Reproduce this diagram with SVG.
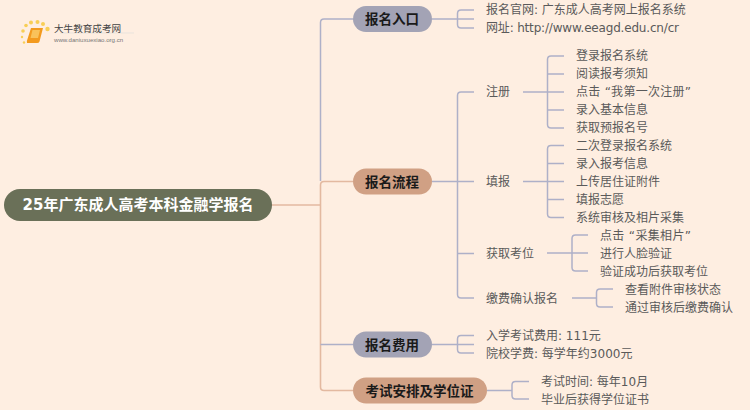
<svg xmlns="http://www.w3.org/2000/svg" width="750" height="410" viewBox="0 0 750 410">
<style>
text{font-family:"DejaVu Sans","Noto Sans CJK SC",sans-serif}
.l{font-size:12px;fill:#5a5a5a;dominant-baseline:central;transform:translateY(0.8px)}
.p{font-size:13.500px;font-weight:700;fill:#1a1a1a;text-anchor:middle;dominant-baseline:central;transform:translateY(0.8px)}
.c path{fill:none;stroke:#AEB0C8;stroke-width:1.5}
.c path.o{stroke:#E3B9A0;stroke-width:1.6}
</style>
<rect width="750" height="410" fill="#FEEEE1"/>
<g id="logo">
<g fill="#F8CE55"><circle cx="23" cy="31" r="1.8"/><circle cx="26" cy="25.500" r="1.800"/><circle cx="31" cy="22.500" r="2"/><circle cx="37.500" cy="22" r="2"/><circle cx="43" cy="24" r="2"/><circle cx="47.500" cy="29" r="2.200"/><circle cx="22" cy="37" r="1.200"/><circle cx="24" cy="42.500" r="1.200"/></g>
<path d="M31 28H43L39.500 41.500Q39 43 37 43H27Q26.500 41 27.500 39Z" fill="#F39A1E"/>
<path d="M32.500 30H40L38 38H30.500Z" fill="#F9C25A"/>
<path d="M60 33H134" stroke="#E9E3DC" stroke-width="1" fill="none"/>
<text x="54" y="28" font-size="9.600" fill="#444" dominant-baseline="central">大牛教育成考网</text>
<text x="54" y="39" font-size="6.100" fill="#777" dominant-baseline="central" style="font-family:'Liberation Sans',sans-serif">www.daniuxuexiao.org.cn</text>
</g>
<g id="connectors" class="c">
<path class="o" d="M272 205H320.500"/>
<path d="M353 19H324Q320.500 19 320.500 22.500V181"/>
<path class="o" d="M353 181.500H324Q320.500 181.500 320.500 185V387Q320.500 390.500 324 390.500H353"/>
<path d="M353 344.500H320.500"/>
<path d="M432 19H474M474 10H461Q457.500 10 457.500 13.500V24.500Q457.500 28 461 28H474"/>
<path d="M432 181.500H474M474 92H461Q457.500 92 457.500 95.500V294.500Q457.500 298 461 298H474M457.500 253.500H474"/>
<path d="M523 92H547.500M564 56H551Q547.500 56 547.500 59.500V124.500Q547.500 128 551 128H564M547.500 74H564M547.500 92H564M547.500 110H564"/>
<path d="M523 181.500H547.500M564 145.500H551Q547.500 145.500 547.500 149V214Q547.500 217.500 551 217.500H564M547.500 163.500H564M547.500 181.500H564M547.500 199.500H564"/>
<path d="M547 253H572M588 235H575.500Q572 235 572 238.500V267.500Q572 271 575.500 271H588M572 253H588"/>
<path d="M572 298H596.500M613 289H600Q596.500 289 596.500 292.500V303.500Q596.500 307 600 307H613"/>
<path d="M432 344.500H474M474 335.500H461Q457.500 335.500 457.500 339V349.500Q457.500 353 461 353H474"/>
<path d="M487 390.500H512M529 381.500H515.500Q512 381.500 512 385V395.500Q512 399 515.500 399H529"/>
</g>
<g id="root"><rect x="4" y="189" width="268" height="32" rx="16" fill="#6A7058"/><text x="138" y="205" font-size="15" font-weight="700" fill="#fff" text-anchor="middle" dominant-baseline="central">25年广东成人高考本科金融学报名</text></g>
<g id="n1"><rect x="353" y="6" width="79" height="26" rx="13" fill="#A3A3B5"/><text class="p" x="392" y="18.500">报名入口</text></g>
<g id="n2"><rect x="353" y="168.500" width="79" height="26" rx="13" fill="#D0A084"/><text class="p" x="392" y="181">报名流程</text></g>
<g id="n3"><rect x="353" y="331.500" width="79" height="26" rx="13" fill="#A3A3B5"/><text class="p" x="392" y="344">报名费用</text></g>
<g id="n4"><rect x="353" y="377.500" width="134" height="26" rx="13" fill="#D0A084"/><text class="p" x="419.500" y="390">考试安排及学位证</text></g>
<g id="a1"><text class="l" x="486" y="9.500">报名官网: 广东成人高考网上报名系统</text></g>
<g id="a2"><text class="l" x="486" y="27.500" textLength="193">网址: http://www.eeagd.edu.cn/cr</text></g>
<g id="b1"><text class="l" x="486" y="91.500">注册</text></g>
<g id="b2"><text class="l" x="486" y="181">填报</text></g>
<g id="b3"><text class="l" x="486" y="253">获取考位</text></g>
<g id="b4"><text class="l" x="486" y="298">缴费确认报名</text></g>
<g id="c1"><text class="l" x="576" y="55.500">登录报名系统</text></g>
<g id="c2"><text class="l" x="576" y="73.500">阅读报考须知</text></g>
<g id="c3"><text class="l" x="576" y="91.500" textLength="115">点击 “我第一次注册”</text></g>
<g id="c4"><text class="l" x="576" y="109.500">录入基本信息</text></g>
<g id="c5"><text class="l" x="576" y="127.500">获取预报名号</text></g>
<g id="d1"><text class="l" x="576" y="145.500">二次登录报名系统</text></g>
<g id="d2"><text class="l" x="576" y="163.500">录入报考信息</text></g>
<g id="d3"><text class="l" x="576" y="181.500">上传居住证附件</text></g>
<g id="d4"><text class="l" x="576" y="199">填报志愿</text></g>
<g id="d5"><text class="l" x="576" y="217">系统审核及相片采集</text></g>
<g id="e1"><text class="l" x="600" y="235" textLength="91">点击 “采集相片”</text></g>
<g id="e2"><text class="l" x="600" y="253">进行人脸验证</text></g>
<g id="e3"><text class="l" x="600" y="271">验证成功后获取考位</text></g>
<g id="f1"><text class="l" x="625" y="289">查看附件审核状态</text></g>
<g id="f2"><text class="l" x="625" y="307">通过审核后缴费确认</text></g>
<g id="g1"><text class="l" x="486" y="335.500">入学考试费用: 111元</text></g>
<g id="g2"><text class="l" x="486" y="353">院校学费: 每学年约3000元</text></g>
<g id="h1"><text class="l" x="541" y="381">考试时间: 每年10月</text></g>
<g id="h2"><text class="l" x="541" y="399">毕业后获得学位证书</text></g>
</svg>
